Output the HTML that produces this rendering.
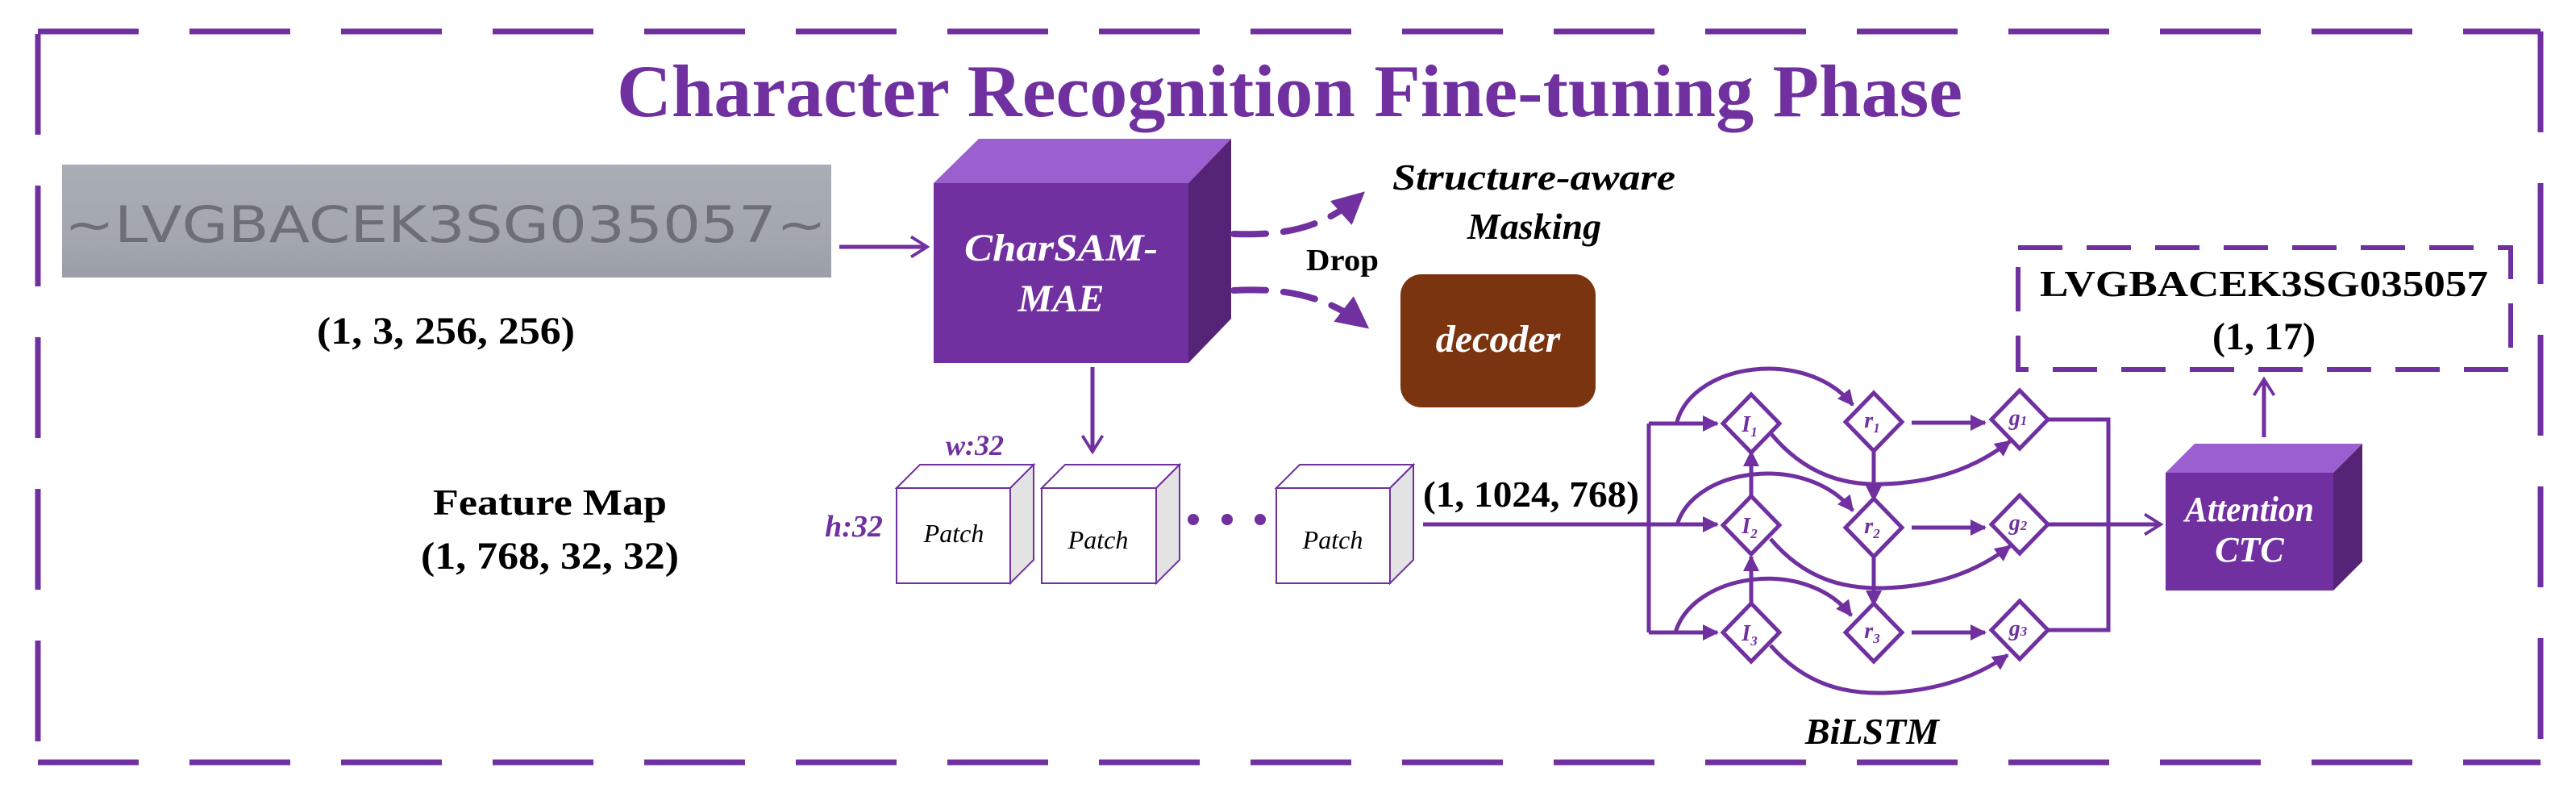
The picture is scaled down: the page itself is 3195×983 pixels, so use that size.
<!DOCTYPE html>
<html><head><meta charset="utf-8"><style>
html,body{margin:0;padding:0;background:#fff;}
svg{display:block;}
</style></head><body>
<svg width="3195" height="983" viewBox="0 0 3195 983" xmlns="http://www.w3.org/2000/svg">
<defs>
<marker id="tri" viewBox="0 0 10 10" refX="9" refY="5" markerWidth="4" markerHeight="4" orient="auto" markerUnits="strokeWidth"><path d="M0,0 L10,5 L0,10 z" fill="#7030a0"/></marker>
<marker id="big" viewBox="0 0 10 10" refX="9" refY="5" markerWidth="5" markerHeight="5" orient="auto" markerUnits="strokeWidth"><path d="M0,0 L10,5 L0,10 z" fill="#7030a0"/></marker>
<marker id="chev" viewBox="0 0 12 12" refX="10" refY="6" markerWidth="6" markerHeight="6" orient="auto" markerUnits="strokeWidth"><path d="M2,1 L10,6 L2,11" fill="none" stroke="#7030a0" stroke-width="1.5"/></marker>
<linearGradient id="img" x1="0" y1="0" x2="0" y2="1"><stop offset="0" stop-color="#a9adb4"/><stop offset="0.7" stop-color="#a2a6ad"/><stop offset="1" stop-color="#9a9ea6"/></linearGradient>
</defs>
<g fill="none" stroke="#7030a0" stroke-width="7" stroke-dasharray="125 63">
<path d="M47,39 H3151"/>
<path d="M47,945 H3151"/>
<path d="M47,42 V945"/>
<path d="M3151,39 V945"/>
</g>
<text x="765" y="144" font-family="Liberation Serif" font-weight="bold" font-size="92" fill="#7030a0" textLength="1669" lengthAdjust="spacingAndGlyphs">Character Recognition Fine-tuning Phase</text>

<rect x="77" y="204" width="954" height="140" fill="url(#img)"/>
<text x="80" y="300" font-family="DejaVu Sans" font-size="62" fill="#6c6f75" textLength="945" lengthAdjust="spacingAndGlyphs">~LVGBACEK3SG035057~</text>
<text x="553" y="426" text-anchor="middle" font-family="Liberation Serif" font-weight="bold" font-size="48" textLength="320" lengthAdjust="spacingAndGlyphs">(1, 3, 256, 256)</text>

<path d="M1041,306 H1150" stroke="#7030a0" stroke-width="5" marker-end="url(#chev)"/>

<polygon points="1158,227 1214,172 1527,172 1474,227" fill="#9b5fcf"/>
<polygon points="1474,227 1527,172 1527,395 1474,450" fill="#552477"/>
<rect x="1158" y="227" width="316" height="223" fill="#7030a0"/>
<text x="1316" y="323" text-anchor="middle" font-family="Liberation Serif" font-weight="bold" font-style="italic" font-size="48" fill="#fff" textLength="240" lengthAdjust="spacingAndGlyphs">CharSAM-</text>
<text x="1316" y="386" text-anchor="middle" font-family="Liberation Serif" font-weight="bold" font-style="italic" font-size="48" fill="#fff">MAE</text>

<path d="M1355,455 V560" stroke="#7030a0" stroke-width="5" marker-end="url(#chev)"/>

<path d="M1530,290 C1590,292 1640,285 1690,240" fill="none" stroke="#7030a0" stroke-width="8" stroke-linecap="round" stroke-dasharray="40 22" marker-end="url(#big)"/>
<path d="M1530,360 C1600,356 1650,370 1695,405" fill="none" stroke="#7030a0" stroke-width="8" stroke-linecap="round" stroke-dasharray="40 22" marker-end="url(#big)"/>
<text x="1727" y="235" font-family="Liberation Serif" font-weight="bold" font-style="italic" font-size="46" textLength="351" lengthAdjust="spacingAndGlyphs">Structure-aware</text>
<text x="1903" y="296" text-anchor="middle" font-family="Liberation Serif" font-weight="bold" font-style="italic" font-size="46">Masking</text>
<text x="1620" y="335" font-family="Liberation Serif" font-weight="bold" font-size="38" textLength="90" lengthAdjust="spacingAndGlyphs">Drop</text>
<rect x="1737" y="340" width="242" height="165" rx="26" fill="#7b3410"/>
<text x="1858" y="436" text-anchor="middle" font-family="Liberation Serif" font-weight="bold" font-style="italic" font-size="48" fill="#fff">decoder</text>

<text x="1209" y="564" text-anchor="middle" font-family="Liberation Serif" font-weight="bold" font-style="italic" font-size="36" fill="#7030a0">w:32</text>
<text x="1059" y="665" text-anchor="middle" font-family="Liberation Serif" font-weight="bold" font-style="italic" font-size="38" fill="#7030a0">h:32</text>
<g stroke="#7030a0" stroke-width="2">
<polygon points="1112,605 1141,576 1282,576 1253,605" fill="#fff"/>
<polygon points="1253,605 1282,576 1282,694 1253,723" fill="#e3e3e3"/>
<rect x="1112" y="605" width="141" height="118" fill="#fff"/>
<polygon points="1292,605 1321,576 1463,576 1434,605" fill="#fff"/>
<polygon points="1434,605 1463,576 1463,694 1434,723" fill="#e3e3e3"/>
<rect x="1292" y="605" width="142" height="118" fill="#fff"/>
<polygon points="1583,605 1612,576 1753,576 1724,605" fill="#fff"/>
<polygon points="1724,605 1753,576 1753,694 1724,723" fill="#e3e3e3"/>
<rect x="1583" y="605" width="141" height="118" fill="#fff"/>
</g>
<g font-family="Liberation Serif" font-style="italic" font-size="32" text-anchor="middle">
<text x="1183" y="672">Patch</text><text x="1362" y="680">Patch</text><text x="1653" y="680">Patch</text>
</g>
<circle cx="1480" cy="644" r="7" fill="#7030a0"/><circle cx="1522" cy="644" r="7" fill="#7030a0"/><circle cx="1563" cy="644" r="7" fill="#7030a0"/>
<text x="682" y="638" text-anchor="middle" font-family="Liberation Serif" font-weight="bold" font-size="46" textLength="290" lengthAdjust="spacingAndGlyphs">Feature Map</text>
<text x="682" y="705" text-anchor="middle" font-family="Liberation Serif" font-weight="bold" font-size="48" textLength="320" lengthAdjust="spacingAndGlyphs">(1, 768, 32, 32)</text>
<text x="1765" y="628" font-family="Liberation Serif" font-weight="bold" font-size="46" textLength="268" lengthAdjust="spacingAndGlyphs">(1, 1024, 768)</text>

<g fill="none" stroke="#7030a0" stroke-width="5">
<path d="M1765,650 H2130" marker-end="url(#tri)"/>
<path d="M2045,525 V784"/>
<path d="M2045,525 H2130" marker-end="url(#tri)"/>
<path d="M2045,784 H2130" marker-end="url(#tri)"/>
<path d="M2172,751 V690" marker-end="url(#tri)"/>
<path d="M2172,618 V560" marker-end="url(#tri)"/>
<path d="M2324,559 V620" marker-end="url(#tri)"/>
<path d="M2324,690 V750" marker-end="url(#tri)"/>
<path d="M2371,524 H2462" marker-end="url(#tri)"/>
<path d="M2371,654 H2462" marker-end="url(#tri)"/>
<path d="M2371,784 H2462" marker-end="url(#tri)"/>
<path d="M2080,523 C2100,450 2240,430 2298,502" marker-end="url(#tri)"/>
<path d="M2080,651 C2100,580 2240,560 2298,633" marker-end="url(#tri)"/>
<path d="M2078,784 C2100,710 2240,690 2296,763" marker-end="url(#tri)"/>
<path d="M2196,537 C2240,590 2290,602 2336,600 C2400,598 2450,580 2493,547" marker-end="url(#tri)"/>
<path d="M2196,668 C2240,720 2290,730 2336,729 C2400,727 2450,710 2493,677" marker-end="url(#tri)"/>
<path d="M2196,800 C2240,850 2290,860 2336,859 C2400,857 2450,840 2490,812" marker-end="url(#tri)"/>
<path d="M2541,520 H2615 V781 H2541"/>
<path d="M2541,650 H2680" marker-end="url(#chev)"/>
<path d="M2808,542 V470" marker-end="url(#chev)"/>
</g>
<g fill="#fff" stroke="#7030a0" stroke-width="5">
<polygon points="2172,489 2207,525 2172,561 2137,525"/>
<polygon points="2172,615 2207,651 2172,687 2137,651"/>
<polygon points="2172,748 2207,784 2172,820 2137,784"/>
<polygon points="2324,487 2359,523 2324,559 2289,523"/>
<polygon points="2324,618 2359,654 2324,690 2289,654"/>
<polygon points="2324,748 2359,784 2324,820 2289,784"/>
<polygon points="2505,484 2540,520 2505,556 2470,520"/>
<polygon points="2505,614 2540,650 2505,686 2470,650"/>
<polygon points="2505,745 2540,781 2505,817 2470,781"/>
</g>
<g font-family="Liberation Serif" font-style="italic" font-weight="bold" font-size="28" fill="#7030a0" text-anchor="middle">
<text x="2170" y="535">I<tspan font-size="17" dy="6">1</tspan></text>
<text x="2170" y="661">I<tspan font-size="17" dy="6">2</tspan></text>
<text x="2170" y="794">I<tspan font-size="17" dy="6">3</tspan></text>
<text x="2322" y="530">r<tspan font-size="17" dy="6">1</tspan></text>
<text x="2322" y="661">r<tspan font-size="17" dy="6">2</tspan></text>
<text x="2322" y="791">r<tspan font-size="17" dy="6">3</tspan></text>
<text x="2503" y="527">g<tspan font-size="17">1</tspan></text>
<text x="2503" y="657">g<tspan font-size="17">2</tspan></text>
<text x="2503" y="788">g<tspan font-size="17">3</tspan></text>
</g>
<text x="2322" y="922" text-anchor="middle" font-family="Liberation Serif" font-weight="bold" font-style="italic" font-size="46">BiLSTM</text>

<polygon points="2686,586 2722,550 2930,550 2894,586" fill="#9b5fcf"/>
<polygon points="2894,586 2930,550 2930,696 2894,732" fill="#552477"/>
<rect x="2686" y="586" width="208" height="146" fill="#7030a0"/>
<text x="2790" y="646" text-anchor="middle" font-family="Liberation Serif" font-style="italic" font-weight="bold" font-size="44" fill="#fff" textLength="160" lengthAdjust="spacingAndGlyphs">Attention</text>
<text x="2790" y="696" text-anchor="middle" font-family="Liberation Serif" font-style="italic" font-weight="bold" font-size="44" fill="#fff">CTC</text>

<rect x="2503" y="307" width="611" height="151" fill="none" stroke="#7030a0" stroke-width="6" stroke-dasharray="55 30"/>
<text x="2808" y="367" text-anchor="middle" font-family="Liberation Serif" font-weight="bold" font-size="46" textLength="556" lengthAdjust="spacingAndGlyphs">LVGBACEK3SG035057</text>
<text x="2808" y="433" text-anchor="middle" font-family="Liberation Serif" font-weight="bold" font-size="48">(1, 17)</text>
</svg>
</body></html>
